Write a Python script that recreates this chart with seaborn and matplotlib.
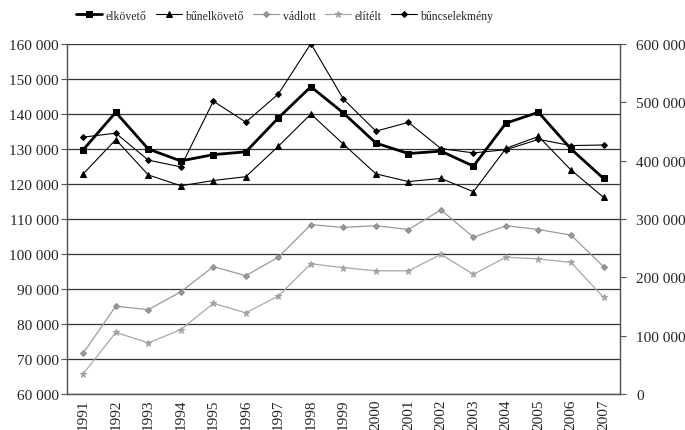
import matplotlib
matplotlib.use("Agg")
import matplotlib.pyplot as plt
import seaborn as sns
import numpy as np
from matplotlib.ticker import FuncFormatter, MultipleLocator

years = [1991, 1992, 1993, 1994, 1995, 1996, 1997, 1998, 1999,
         2000, 2001, 2002, 2003, 2004, 2005, 2006, 2007]

# left axis series
elkoveto = [129800, 140500, 130000, 126600, 128400, 129200, 138900, 147800, 140300,
            131700, 128700, 129400, 125100, 137400, 140500, 130000, 121600]
bunelkoveto = [122900, 132700, 122600, 119500, 121000, 122100, 130800, 140000, 131400,
               122900, 120700, 121600, 117800, 130200, 133600, 124000, 116200]
vadlott = [71700, 85100, 84100, 89200, 96400, 93800, 99100, 108400, 107600,
           108100, 107000, 112600, 104800, 108100, 107000, 105400, 96400]
elitelt = [65800, 77600, 74600, 78400, 85900, 83200, 88000, 97200, 96100,
           95200, 95200, 99900, 94200, 99100, 98600, 97600, 87600]

# right axis series
buncselekmeny = [440370, 447215, 400935, 389451, 502036, 466050, 514403, 600621, 505716,
                 450673, 465694, 420782, 413343, 418883, 436522, 425941, 426914]

sns.set_style("white")
plt.rcParams['font.family'] = ['Liberation Serif', 'DejaVu Serif']

fig = plt.figure(figsize=(6.85, 4.31), dpi=100)
ax = fig.add_axes([0.0978, 0.0835, 0.807, 0.812])
ax2 = ax.twinx()

sns.lineplot(x=years, y=elkoveto, ax=ax, color='black', linewidth=2,
             marker='s', markersize=4.5, markeredgecolor='black', label='elkövető')
sns.lineplot(x=years, y=bunelkoveto, ax=ax, color='black', linewidth=0.8,
             marker='^', markersize=4.5, markeredgecolor='black', label='bűnelkövető')
sns.lineplot(x=years, y=vadlott, ax=ax, color='#9a9a9a', linewidth=0.9,
             marker='D', markersize=3, markeredgecolor='#8a8a8a', label='vádlott')
sns.lineplot(x=years, y=elitelt, ax=ax, color='#a8a8a8', linewidth=0.9,
             marker='*', markersize=4.5, markeredgecolor='#a0a0a0', label='elítélt')
sns.lineplot(x=years, y=buncselekmeny, ax=ax2, color='black', linewidth=0.8,
             marker='D', markersize=3, markeredgecolor='black', label='bűncselekmény')

ax.set_xlim(1990.5, 2007.5)
ax.set_ylim(60000, 160000)
ax2.set_ylim(0, 600000)

fmt = FuncFormatter(lambda v, p: f"{int(v):,}".replace(",", " "))
ax.yaxis.set_major_locator(MultipleLocator(10000))
ax.yaxis.set_major_formatter(fmt)
ax2.yaxis.set_major_locator(MultipleLocator(100000))
ax2.yaxis.set_major_formatter(fmt)

ax.set_xticks(years)
ax.set_xticklabels([str(y) for y in years], rotation=90)
ax.set_xticks(np.arange(1990.5, 2008, 1), minor=True)
ax.tick_params(axis='x', which='major', length=0, labelsize=11, pad=3)
ax.tick_params(axis='x', which='minor', length=4, direction='out', color='#555')
ax.tick_params(axis='y', length=4, direction='out', labelsize=11, color='#555', pad=2)
ax2.tick_params(axis='y', length=4, direction='out', labelsize=11, color='#555', pad=8)

ax.grid(axis='y', color='#333333', linewidth=0.9)
ax.set_axisbelow(True)
for a in (ax, ax2):
    a.spines['top'].set_visible(False)
    for s in ('left', 'right', 'bottom'):
        a.spines[s].set_color('#555')
        a.spines[s].set_linewidth(0.9)

h1, l1 = ax.get_legend_handles_labels()
h2, l2 = ax2.get_legend_handles_labels()
ax.get_legend().remove()
ax2.get_legend().remove()
fig.legend(h1 + h2, l1 + l2, loc='upper left', bbox_to_anchor=(0.095, 1.0), ncol=5,
           frameon=False, fontsize=8.5, handlelength=2.2, handletextpad=0.3, columnspacing=0.8)

fig.savefig('out.png', dpi=100)
